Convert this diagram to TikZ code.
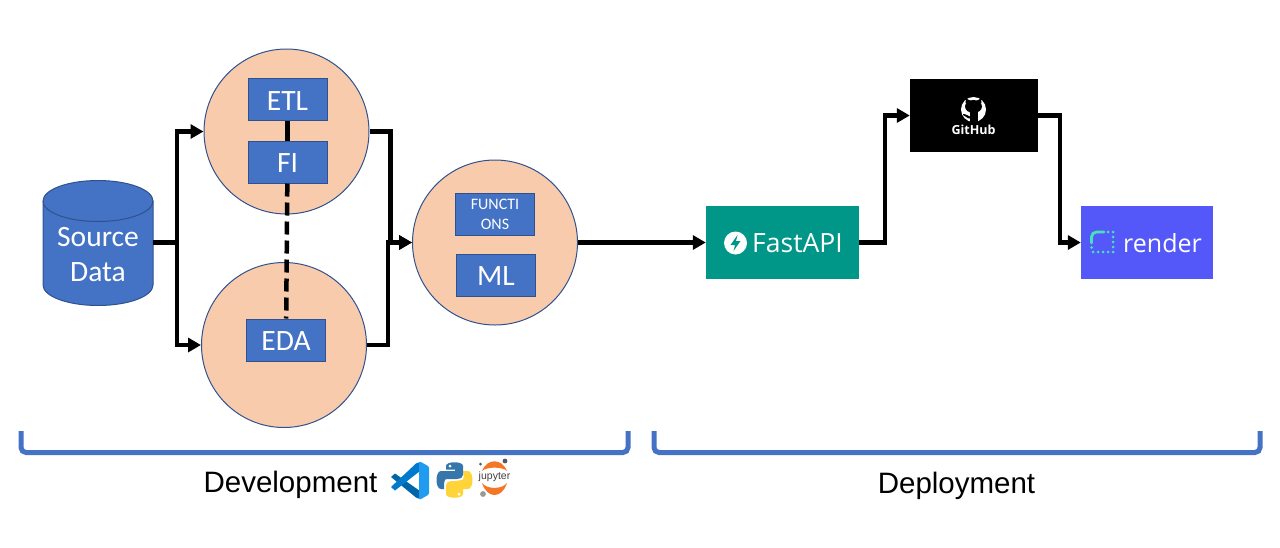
\documentclass[tikz,border=0pt]{standalone}
\usepackage{fontspec}
\setmainfont{Liberation Sans}
\newfontfamily\calibrifont{Carlito}
\newfontfamily\logofont{Open Sans}
\usetikzlibrary{arrows.meta}
\definecolor{boxblue}{HTML}{4472C4}
\definecolor{edgeblue}{HTML}{2F528F}
\definecolor{peach}{HTML}{F8CBAD}
\definecolor{teal}{HTML}{009688}
\definecolor{renderblue}{HTML}{5558F8}
\definecolor{mint}{HTML}{46E3B7}
\definecolor{codedark}{HTML}{0065A9}
\definecolor{codemid}{HTML}{007ACC}
\definecolor{codelight}{HTML}{1F9CF0}
\definecolor{pyblue}{HTML}{3776AB}
\definecolor{pyyellow}{HTML}{FFD43B}
\definecolor{juporange}{HTML}{F37726}
\tikzset{
 bubble/.style={circle,draw=edgeblue,line width=1pt,fill=peach,minimum size=165pt,inner sep=0pt},
 taskbox/.style={rectangle,draw=edgeblue,line width=1pt,fill=boxblue,text=white,minimum width=79pt,minimum height=42pt,inner sep=0pt,align=center},
 task/.style={taskbox,font=\calibrifont\fontsize{29.5}{30}\selectfont,text height=21pt,text depth=0pt},
 small task/.style={taskbox,font=\calibrifont\fontsize{16}{20.5}\selectfont},
 conn/.style={line width=4.5pt,black,-{Triangle[length=13pt,width=14pt]},miter limit=10},
 plainconn/.style={line width=4.5pt,black},
 service/.style={rectangle,minimum width=#1,minimum height=73pt,inner sep=0pt},
 brace line/.style={line width=5pt,boxblue,rounded corners=5pt},
 label/.style={font=\fontsize{29.5}{32}\selectfont,inner sep=0pt},
 logotext/.style={font=\logofont\fontsize{26.5}{30}\selectfont,text=white,inner sep=0pt},
}
\begin{document}
\begin{tikzpicture}[x=1pt,y=-1pt]
\useasboundingbox (0,0) rectangle (1280,547);
% circles
\node[bubble] (top) at (286.5,131.5) {};
\node[bubble] (bot) at (284,345) {};
\node[bubble] (mid) at (495,242.5) {};
% source cylinder
\draw[edgeblue,line width=1pt,fill=boxblue] (43,201) arc[start angle=180,end angle=0,x radius=55,y radius=-20.5] -- (153,285) arc[start angle=0,end angle=-180,x radius=55,y radius=-20.5] -- cycle;
\draw[edgeblue,line width=1pt] (43,201) arc[start angle=180,end angle=360,x radius=55,y radius=-20.5];
\node[rectangle,minimum width=110pt,minimum height=125pt,inner sep=0pt] (src) at (98,242.5) {};
\node[text=white,align=center,font=\calibrifont\fontsize{29.5}{35}\selectfont,inner sep=0pt] (srctext) at (98,254.5) {Source\\Data};
% tasks
\node[task] (etl) at (287.5,99.5) {ETL};
\node[task] (fi) at (287.5,162) {FI};
\node[task] (eda) at (286,340) {EDA};
\node[small task] (fun) at (495,214.5) {FUNCTI\\ONS};
\node[task] (ml) at (496,275) {ML};
% services
\node[service=153pt,fill=teal] (fast) at (782.5,242.5) {};
\node[service=128pt,fill=black] (git) at (974,115.5) {};
\node[service=132pt,fill=renderblue] (ren) at (1147,242.5) {};
% fastapi logo
\fill[white] (735.5,243) circle (11.5);
\fill[teal] (737.5,235) -- (730.5,245) -- (735,245) -- (733.5,251) -- (740.5,241) -- (736,241) -- cycle;
\node[logotext,anchor=west] (fasttext) at (752,243) {FastAPI};
% github logo
\fill[white] (973.5,109.5) circle (12.5);
\fill[black] (973.5,106.5) ellipse (8.5 and 6.5);
\fill[black] (965.5,103) -- (966,98.5) -- (971,101) -- (976,101) -- (981,98.5) -- (981.5,103) -- cycle;
\fill[black] (969.5,110) rectangle (977.5,122.5);
\fill[black] (963,115) .. controls (966,115.5) and (966,118.5) .. (970,118.5) -- (970,116.5) .. controls (968,116.5) and (967,114) .. (963,114) -- cycle;
\node[font=\logofont\bfseries\fontsize{12.5}{14}\selectfont,text=white,inner sep=0pt] (gittext) at (973.5,130) {GitHub};
% render logo
\draw[mint,line width=2.8pt,line cap=round,rounded corners=5pt] (1091.5,243) -- (1091.5,232) -- (1104,232);
\foreach \p in {(1108,232),(1113,232),(1113,237),(1113,242),(1113,247),(1113,252),(1108,252),(1103,252),(1098,252),(1093,252),(1091.5,247.5)}
  \fill[mint] \p circle (1.5);
\node[logotext,anchor=west,font=\logofont\fontsize{25}{30}\selectfont] (rentext) at (1123,243) {render};
% connectors
\draw[plainconn] (etl) -- (fi);
\draw[plainconn,dash pattern=on 13pt off 6pt] (fi) -- (eda);
\draw[conn] (src.east) -- ++(24,0) |- (top.west);
\draw[conn] (src.east) -- ++(24,0) |- (bot.west);
\draw[conn] (top.east) -- ++(21,0) |- (mid.west);
\draw[conn] (bot.east) -- ++(21,0) |- (mid.west);
\draw[conn] (mid.east) -- (fast.west);
\draw[conn] (fast.east) -- ++(26,0) |- (git.west);
\draw[conn] (git.east) -- ++(22,0) |- (ren.west);
% brackets
\draw[brace line] (21,431) -- (21,452.5) -- (628,452.5) -- (628,431);
\draw[brace line] (654,431) -- (654,452.5) -- (1260,452.5) -- (1260,431);
\node[label] (dev) at (290.5,484.5) {Development};
\node[label] (dep) at (956.5,485.5) {Deployment};
% vs code logo
\fill[codedark] (391,477) -- (395,473.5) -- (420,491) -- (420,499) -- (416,497.5) -- cycle;
\fill[codemid] (391,487) -- (395,490.5) -- (420,471) -- (420,462) -- (416,463.5) -- cycle;
\fill[codelight] (419,462) .. controls (420,461.5) .. (421,462) -- (428,466) .. controls (429,466.5) .. (429,468) -- (429,493) .. controls (429,494.5) .. (428,495) -- (421,499) .. controls (420,499.5) .. (419,499) -- cycle;
% python logo
\fill[pyyellow] (463,489) -- (454,489) .. controls (454,481.5) .. (455,481) -- (462,480) .. controls (465,480) and (463,471) .. (463,471) -- (468,471) .. controls (473,471) and (473,488) .. (468,489) -- (463,489) -- (463,494) .. controls (463,499) and (446,499) .. (446,494) -- (446,485) .. controls (446,482) and (449,481) .. (452,481) -- (462,481) .. controls (465,481) and (465,477) .. (465,474) -- (465,471) -- (468,471) .. controls (474,471) and (474,489) .. (468,489) -- cycle;
\fill[pyblue] (446,471) -- (455,471) -- (455,469.5) -- (446,469.5) -- (446,466) .. controls (446,461) and (463,461) .. (463,466) -- (463,475) .. controls (463,478) and (460,479) .. (457,479) -- (447,479) .. controls (444,479) and (444,483) .. (444,486) -- (444,489) -- (441,489) .. controls (435,489) and (435,471) .. (441,471) -- cycle;
\fill[white] (450,466) circle (1.5);
\fill[white] (459,494) circle (1.5);
% jupyter logo
\fill[juporange] (482,471) .. controls (487,458) and (502,458) .. (507,471) .. controls (502,466.5) and (487,466.5) .. (482,471) -- cycle;
\fill[juporange] (482,483) .. controls (487,499) and (502,499) .. (507,483) .. controls (502,489.5) and (487,489.5) .. (482,483) -- cycle;
\fill[gray!70!black] (505,461) circle (2.4);
\fill[gray!70!black] (480.5,464) circle (1.5);
\fill[gray!80] (483,494) circle (2.9);
\node[font=\fontsize{10.5}{11}\selectfont,text=black!75,inner sep=0pt] (juptext) at (494.5,477) {jupyter};
\end{tikzpicture}
\end{document}
